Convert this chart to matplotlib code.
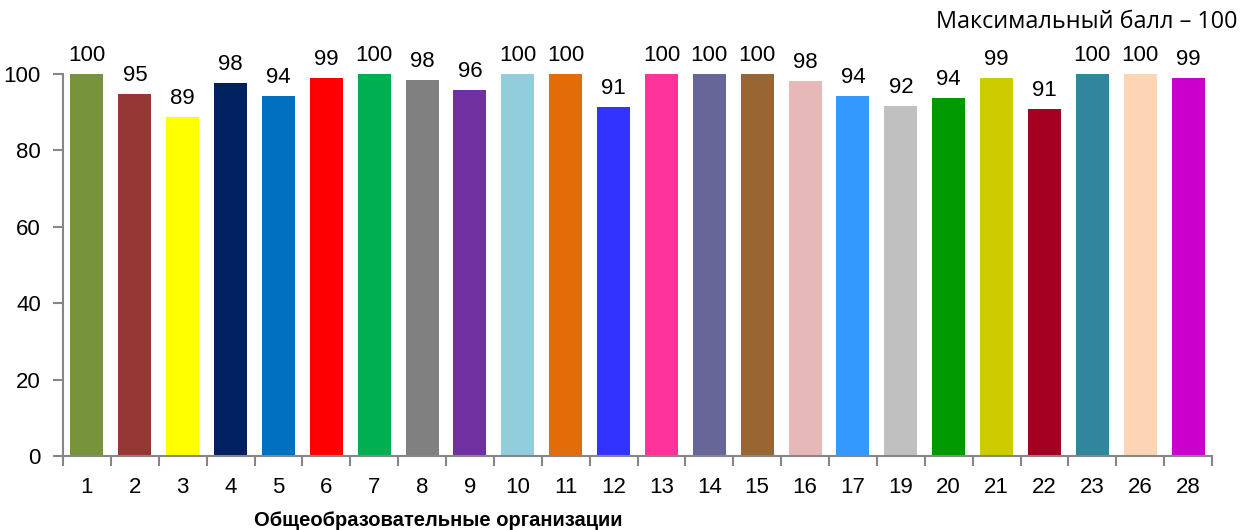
import matplotlib
matplotlib.use("Agg")
import matplotlib.pyplot as plt
from matplotlib.ticker import FixedLocator, NullFormatter

# data
orgs = ["1", "2", "3", "4", "5", "6", "7", "8", "9", "10", "11", "12",
        "13", "14", "15", "16", "17", "19", "20", "21", "22", "23", "26", "28"]
scores = [100, 94.8, 88.7, 97.6, 94.2, 98.9, 100, 98.4, 95.8, 100, 100, 91.3,
          100, 100, 100, 98.2, 94.2, 91.6, 93.7, 98.9, 90.8, 100, 100, 98.9]
colors = ["#77933C", "#953735", "#FFFF00", "#002060", "#0070C0", "#FF0000",
          "#00B050", "#808080", "#7030A0", "#92CDDC", "#E36C09", "#3333FF",
          "#FF3399", "#666699", "#996633", "#E6B9B8", "#3399FF", "#C0C0C0",
          "#009900", "#CCCC00", "#A50021", "#31859C", "#FCD5B5", "#CC00CC"]

NARROW = ["Liberation Sans Narrow", "Liberation Sans", "DejaVu Sans"]
AXIS = "#868686"

fig = plt.figure(figsize=(12.43, 5.30), dpi=100)
ax = fig.add_axes([63 / 1243, 1 - 456 / 530, (1212 - 63) / 1243, (456 - 74) / 530])

x = list(range(len(orgs)))
ax.bar(x, scores, width=0.69, color=colors, edgecolor="none")

for xi, v in zip(x, scores):
    ax.annotate(f"{v:.0f}", (xi, v), xytext=(0, 6), textcoords="offset points",
                ha="center", va="bottom", fontsize=16, family=NARROW,
                annotation_clip=False)

ax.set_xlim(-0.5, len(orgs) - 0.5)
ax.set_ylim(0, 100)
ax.set_yticks(range(0, 101, 20))
ax.set_xticks(x)
ax.set_xticklabels(orgs, family=NARROW, fontsize=16)
ax.xaxis.set_minor_locator(FixedLocator([i - 0.5 for i in range(len(orgs) + 1)]))
ax.xaxis.set_minor_formatter(NullFormatter())
ax.tick_params(axis="x", which="major", length=0, pad=15)
ax.tick_params(axis="x", which="minor", length=7, width=1.5, color=AXIS)
ax.tick_params(axis="y", length=7, width=1.5, color=AXIS, pad=9, labelsize=16)
for lbl in ax.get_yticklabels():
    lbl.set_family(NARROW)

for side in ("top", "right"):
    ax.spines[side].set_visible(False)
for side in ("left", "bottom"):
    ax.spines[side].set_color(AXIS)
    ax.spines[side].set_linewidth(1.5)

fig.text(438 / 1243, 1 - 521 / 530, "Общеобразовательные организации",
         ha="center", va="center", fontsize=14.5, fontweight="bold", family=NARROW)
fig.text(1237 / 1243, 1 - 22 / 530, "Максимальный балл – 100",
         ha="right", va="center", fontsize=16.8, family=["Open Sans", "DejaVu Sans"])

fig.savefig("out.png", dpi=100, facecolor="white")
